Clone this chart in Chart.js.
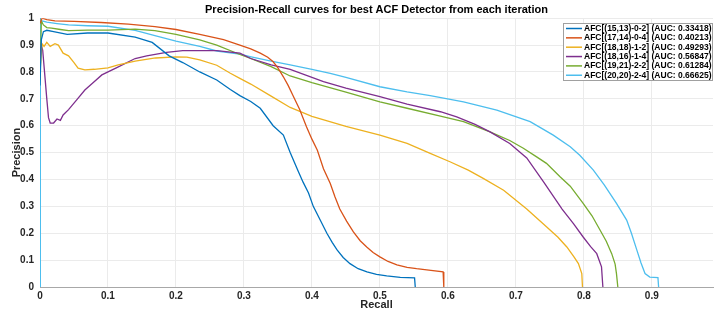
<!DOCTYPE html>
<html>
<head>
<meta charset="utf-8">
<script src="https://cdn.jsdelivr.net/npm/chart.js@4"></script>
<style>
  html, body { margin: 0; padding: 0; background: #fff; }
  #wrap { width: 714px; height: 310px; }
</style>
</head>
<body>
<div id="wrap"><canvas id="chart"></canvas></div>
<script>
// legend labels and colours (MATLAB default order)
const names = [
    "AFC[(15,13)-0-2] (AUC: 0.33418)",
    "AFC[(17,14)-0-4] (AUC: 0.40213)",
    "AFC[(18,18)-1-2] (AUC: 0.49293)",
    "AFC[(18,16)-1-4] (AUC: 0.56847)",
    "AFC[(19,21)-2-2] (AUC: 0.61284)",
    "AFC[(20,20)-2-4] (AUC: 0.66625)"
];
const colors = ["#0072BD", "#D95319", "#EDB120", "#7E2F8E", "#77AC30", "#4DBEEE"];

// recall / precision pairs
const recall1 = [0, 0.002, 0.005, 0.01, 0.02, 0.04, 0.07, 0.1, 0.14, 0.165, 0.19, 0.21, 0.235, 0.26, 0.28, 0.294, 0.31, 0.324, 0.343, 0.358, 0.368, 0.38, 0.387, 0.395, 0.402, 0.412, 0.422, 0.43, 0.437, 0.446, 0.456, 0.468, 0.481, 0.495, 0.51, 0.53, 0.551, 0.552];
const prec1   = [0.75, 0.92, 0.95, 0.955, 0.95, 0.94, 0.945, 0.945, 0.93, 0.91, 0.86, 0.835, 0.8, 0.77, 0.735, 0.712, 0.69, 0.665, 0.6, 0.565, 0.5, 0.43, 0.39, 0.35, 0.3, 0.25, 0.2, 0.165, 0.138, 0.11, 0.087, 0.068, 0.056, 0.047, 0.041, 0.036, 0.034, 0];

const recall2 = [0, 0.003, 0.01, 0.022, 0.05, 0.09, 0.13, 0.169, 0.2, 0.235, 0.27, 0.294, 0.31, 0.324, 0.335, 0.343, 0.35, 0.358, 0.365, 0.373, 0.382, 0.392, 0.4, 0.408, 0.417, 0.427, 0.434, 0.441, 0.451, 0.461, 0.471, 0.481, 0.49, 0.5, 0.512, 0.525, 0.54, 0.554, 0.575, 0.593, 0.594];
const prec2   = [0.98, 1.0, 0.995, 0.99, 0.988, 0.984, 0.978, 0.969, 0.958, 0.94, 0.92, 0.9, 0.886, 0.87, 0.855, 0.838, 0.815, 0.782, 0.75, 0.708, 0.66, 0.596, 0.55, 0.509, 0.44, 0.385, 0.335, 0.29, 0.245, 0.205, 0.172, 0.148, 0.128, 0.112, 0.095, 0.082, 0.073, 0.068, 0.062, 0.056, 0];

const recall3 = [0, 0.003, 0.006, 0.01, 0.015, 0.022, 0.027, 0.034, 0.042, 0.05, 0.056, 0.066, 0.08, 0.1, 0.115, 0.14, 0.17, 0.2, 0.216, 0.235, 0.26, 0.28, 0.294, 0.31, 0.34, 0.368, 0.4, 0.45, 0.5, 0.54, 0.574, 0.603, 0.63, 0.652, 0.682, 0.716, 0.745, 0.762, 0.775, 0.786, 0.792, 0.797, 0.798];
const prec3   = [0.8, 0.905, 0.895, 0.91, 0.895, 0.905, 0.9, 0.87, 0.86, 0.835, 0.814, 0.808, 0.81, 0.815, 0.826, 0.84, 0.852, 0.856, 0.855, 0.845, 0.825, 0.795, 0.776, 0.755, 0.71, 0.668, 0.635, 0.598, 0.565, 0.534, 0.497, 0.466, 0.435, 0.404, 0.36, 0.29, 0.224, 0.185, 0.149, 0.11, 0.087, 0.05, 0];

const recall4 = [0, 0.002, 0.004, 0.007, 0.01, 0.0125, 0.015, 0.02, 0.025, 0.03, 0.034, 0.042, 0.054, 0.066, 0.078, 0.091, 0.113, 0.14, 0.157, 0.186, 0.21, 0.235, 0.26, 0.294, 0.31, 0.34, 0.368, 0.417, 0.45, 0.5, 0.54, 0.589, 0.613, 0.64, 0.662, 0.691, 0.716, 0.741, 0.768, 0.785, 0.799, 0.81, 0.819, 0.826, 0.828];
const prec4   = [0.845, 0.9, 0.88, 0.79, 0.7, 0.63, 0.61, 0.61, 0.625, 0.62, 0.64, 0.66, 0.696, 0.733, 0.76, 0.789, 0.816, 0.85, 0.86, 0.873, 0.879, 0.879, 0.879, 0.87, 0.85, 0.826, 0.81, 0.764, 0.74, 0.708, 0.68, 0.652, 0.633, 0.605, 0.577, 0.534, 0.48, 0.39, 0.29, 0.235, 0.186, 0.15, 0.124, 0.075, 0];

const recall5 = [0, 0.002, 0.005, 0.01, 0.017, 0.03, 0.042, 0.07, 0.1, 0.14, 0.169, 0.2, 0.235, 0.26, 0.294, 0.309, 0.34, 0.368, 0.4, 0.45, 0.5, 0.54, 0.589, 0.623, 0.662, 0.691, 0.711, 0.73, 0.745, 0.765, 0.78, 0.799, 0.812, 0.824, 0.833, 0.841, 0.846, 0.848, 0.85];
const prec5   = [0.77, 0.99, 0.975, 0.965, 0.963, 0.958, 0.954, 0.956, 0.956, 0.959, 0.954, 0.94, 0.919, 0.9, 0.865, 0.851, 0.82, 0.785, 0.76, 0.725, 0.689, 0.665, 0.636, 0.615, 0.577, 0.545, 0.516, 0.485, 0.46, 0.41, 0.375, 0.311, 0.265, 0.211, 0.17, 0.124, 0.085, 0.05, 0];

const recall6 = [0, 0.0005, 0.003, 0.01, 0.025, 0.042, 0.07, 0.1, 0.14, 0.169, 0.2, 0.235, 0.26, 0.294, 0.309, 0.34, 0.368, 0.4, 0.427, 0.45, 0.5, 0.54, 0.574, 0.623, 0.672, 0.721, 0.755, 0.78, 0.794, 0.814, 0.83, 0.848, 0.863, 0.87, 0.878, 0.884, 0.89, 0.897, 0.903, 0.909, 0.91];
const prec6   = [0, 1.0, 0.99, 0.985, 0.98, 0.975, 0.972, 0.97, 0.955, 0.935, 0.915, 0.895, 0.878, 0.866, 0.857, 0.84, 0.826, 0.81, 0.795, 0.78, 0.745, 0.726, 0.712, 0.689, 0.658, 0.615, 0.565, 0.522, 0.49, 0.435, 0.38, 0.311, 0.249, 0.2, 0.137, 0.09, 0.05, 0.037, 0.036, 0.035, 0];

const recalls = [recall1, recall2, recall3, recall4, recall5, recall6];
const precs = [prec1, prec2, prec3, prec4, prec5, prec6];

const xTicks = [0, 0.1, 0.2, 0.3, 0.4, 0.5, 0.6, 0.7, 0.8, 0.9];
const yTicks = [0, 0.1, 0.2, 0.3, 0.4, 0.5, 0.6, 0.7, 0.8, 0.9, 1];

const FONT = '"Liberation Sans", Arial, sans-serif';

let datasets = names.map((n, i) => ({
    label: n,
    data: recalls[i].map((r, j) => ({x: r, y: precs[i][j]})),
    borderColor: colors[i],
    borderWidth: 1.3,
    pointRadius: 0,
    showLine: true,
    fill: false,
    tension: 0
}));

// legend box drawn inside the plot, top right
const insideLegend = {
    id: 'insideLegend',
    afterDraw(c) {
        let ctx = c.ctx;
        let x0 = 563, y0 = 23, w = 150, h = 58;
        ctx.save();
        ctx.fillStyle = '#fff';
        ctx.fillRect(x0, y0, w, h);
        ctx.strokeStyle = '#a0a0a0';
        ctx.lineWidth = 1;
        ctx.strokeRect(x0 + 0.5, y0 + 0.5, w - 1, h - 1);
        // shrink font until the longest label fits the box
        let size = 10;
        ctx.font = 'bold ' + size + 'px ' + FONT;
        let longest = Math.max(...c.data.datasets.map(d => ctx.measureText(d.label).width));
        while (longest > 128 && size > 6) {
            size -= 0.1;
            ctx.font = 'bold ' + size + 'px ' + FONT;
            longest = Math.max(...c.data.datasets.map(d => ctx.measureText(d.label).width));
        }
        ctx.textBaseline = 'middle';
        c.data.datasets.forEach((d, i) => {
            let y = y0 + 5.5 + i * 9.35;
            ctx.strokeStyle = d.borderColor;
            ctx.lineWidth = 1.5;
            ctx.beginPath();
            ctx.moveTo(x0 + 3, y);
            ctx.lineTo(x0 + 19, y);
            ctx.stroke();
            ctx.fillStyle = '#000';
            ctx.fillText(d.label, x0 + 21, y);
        });
        ctx.restore();
    }
};

const chart = new Chart(document.getElementById("chart"), {
    type: 'scatter',
    data: { datasets: datasets },
    options: {
        responsive: true,
        maintainAspectRatio: false,
        animation: false,
        layout: { padding: { right: 1 } },
        plugins: {
            legend: { display: false },
            tooltip: { enabled: false },
            title: {
                display: true,
                fullSize: false,
                text: "Precision-Recall curves for best ACF Detector from each iteration",
                color: '#000',
                font: { family: FONT, size: 11, weight: 'bold' },
                padding: { top: 3, bottom: 2 }
            }
        },
        scales: {
            x: {
                type: 'linear',
                min: 0,
                max: 0.99,
                afterBuildTicks: s => { s.ticks = xTicks.map(v => ({value: v})); },
                afterFit: s => { s.height = 23; },
                ticks: {
                    color: '#262626',
                    padding: 3,
                    font: { family: FONT, size: 10, weight: 'bold' },
                    callback: v => String(v)
                },
                grid: { color: '#ebebeb', drawTicks: false },
                border: { color: '#a8a8a8' },
                title: {
                    display: true,
                    text: 'Recall',
                    color: '#262626',
                    font: { family: FONT, size: 11, weight: 'bold', lineHeight: 1 },
                    padding: 0
                }
            },
            y: {
                type: 'linear',
                min: 0,
                max: 1,
                afterBuildTicks: s => { s.ticks = yTicks.map(v => ({value: v})); },
                afterFit: s => { s.width = 40; },
                ticks: {
                    color: '#262626',
                    padding: 6,
                    font: { family: FONT, size: 10, weight: 'bold' },
                    callback: v => String(v)
                },
                grid: { color: '#ebebeb', drawTicks: false },
                border: { color: '#a8a8a8' },
                title: {
                    display: true,
                    text: 'Precision',
                    color: '#262626',
                    font: { family: FONT, size: 11, weight: 'bold' },
                    padding: { top: 10, bottom: 0 }
                }
            }
        }
    },
    plugins: [insideLegend]
});
</script>
</body>
</html>
